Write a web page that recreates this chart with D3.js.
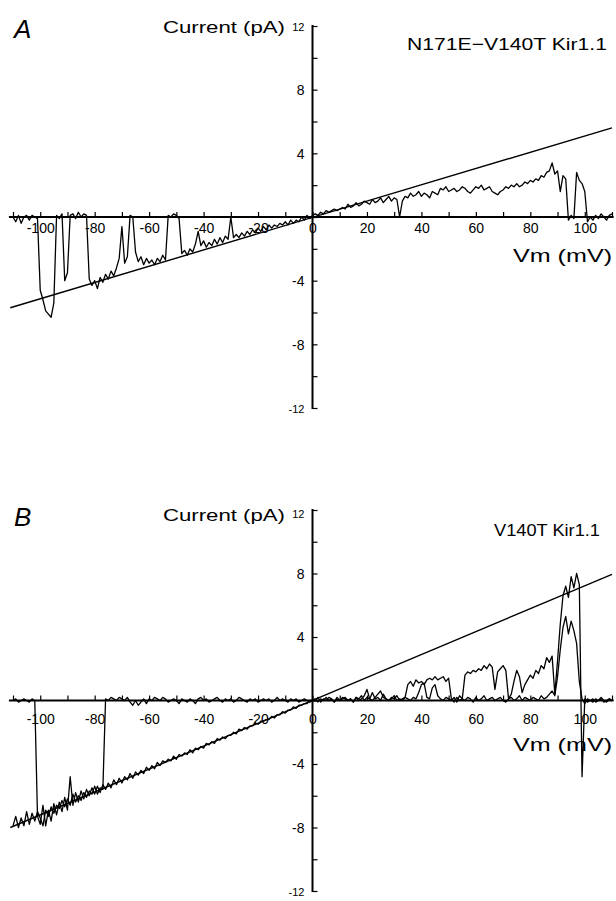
<!DOCTYPE html>
<html>
<head>
<meta charset="utf-8">
<script src="https://cdn.jsdelivr.net/npm/d3@7"></script>
<style>
  body { margin: 0; background: #fff; }
  svg { display: block; }
  text { font-family: "Liberation Sans", Arial, sans-serif; fill: #000; }
</style>
</head>
<body>
<div id="chart"></div>
<script>
// ramp data, one sample per mV starting at -110 mV
const rampStart = -110;

const voltageTicks = [-100, -80, -60, -40, -20, 0, 20, 40, 60, 80, 100];
const currentTicks = [12, 8, 4, -4, -8, -12];

// N171E-V140T Kir1.1 sweep (pA)
const sweepA = [
  0.0, -0.3, 0.1, -0.4, 0.0, 0.1, -0.2, 0.1, 0.0, -0.1,     // -110
  -4.6, -5.2, -5.9, -6.1, -6.3, -5.4, 0.1, -0.1, 0.2, -4.0,  // -100
  -3.5, 0.1, 0.2, -0.1, 0.3, 0.0, 0.2, 0.1, -3.9, -4.3,      // -90
  -4.0, -4.5, -3.8, -4.1, -3.6, -3.9, -3.4, -3.7, -3.2, -2.6, // -80
  -0.6, -2.9, -2.5, 0.1, 0.0, -2.2, -2.8, -2.5, -3.0, -2.6,  // -70
  -2.9, -2.7, -3.0, -2.6, -2.8, -2.4, -2.7, 0.1, 0.0, 0.2,   // -60
  0.1, -0.1, -2.3, -2.1, -2.4, -2.0, -2.2, -1.7, -0.9, -1.8, // -50
  -1.5, -1.9, -1.6, -1.8, -1.4, -1.7, -1.3, -1.6, -1.2, -1.4, // -40
  0.0, -1.3, -1.1, -1.3, -1.0, -1.2, -0.9, -1.1, -0.8, -1.0, // -30
  -0.7, -0.9, -0.6, -0.8, -0.5, -0.7, -0.5, -0.6, -0.4, -0.5, // -20
  -0.3, -0.5, -0.2, -0.4, -0.2, -0.3, 0.0, -0.2, 0.1, -0.1,  // -10
  0.1, 0.2, 0.1, 0.3, 0.2, 0.4, 0.3, 0.4, 0.5, 0.4,          // 0
  0.5, 0.6, 0.5, 0.8, 0.6, 0.7, 0.9, 0.7, 0.8, 1.0,          // 10
  0.9, 0.8, 1.1, 0.9, 1.0, 1.2, 0.9, 1.1, 1.3, 1.0,          // 20
  1.2, 1.1, 0.0, 1.0, 1.3, 1.2, 1.5, 1.3, 1.4, 1.6,          // 30
  1.3, 1.5, 1.4, 1.2, 1.6, 1.5, 1.4, 1.8, 1.7, 1.9,          // 40
  1.6, 1.7, 1.8, 1.6, 1.7, 1.9, 1.8, 1.6, 1.5, 1.7,          // 50
  1.9, 1.8, 2.0, 1.7, 1.8, 1.9, 1.6, 1.5, 1.4, 1.6,          // 60
  1.7, 1.9, 1.8, 2.0, 1.9, 2.1, 1.9, 2.0, 2.2, 2.1,          // 70
  2.3, 2.2, 2.4, 2.3, 2.6, 2.5, 2.8, 2.9, 3.4, 2.7,          // 80
  2.9, 1.6, 2.6, 2.4, -0.2, 0.1, -0.1, 2.8, 2.3, 2.1,        // 90
  1.6, -0.3, 0.0, -0.2, 0.1, -0.1, 0.2, 0.0, -0.2, 0.1,      // 100
  0.2                                                        // 110
];

// V140T Kir1.1, first sweep (pA)
const sweepB1 = [
  0.0, 0.1, -0.1, 0.0, 0.1, 0.0, -0.1, 0.1, 0.0, -7.3,       // -110
  -7.8, -6.6, -7.9, -6.9, -7.6, -6.5, -7.2, -6.4, -7.0, -6.1, // -100
  -6.9, -4.8, -6.6, -5.8, -6.4, -5.7, -6.2, -5.6, -6.0, -5.5, // -90
  -5.9, -5.4, -5.8, -5.3, -5.6, -5.2, -5.5, -5.0, -5.3, -4.9, // -80
  -5.2, -4.8, -5.0, -4.6, -4.9, -4.5, -4.7, -4.4, -4.6, -4.2, // -70
  -4.4, -4.1, -4.3, -3.9, -4.1, -3.8, -3.9, -3.7, -3.8, -3.5, // -60
  -3.7, -3.4, -3.5, -3.3, -3.4, -3.1, -3.3, -3.0, -3.1, -2.9, // -50
  -3.0, -2.7, -2.8, -2.6, -2.7, -2.4, -2.5, -2.3, -2.4, -2.2, // -40
  -2.2, -2.0, -2.1, -1.8, -1.9, -1.7, -1.8, -1.6, -1.6, -1.4, // -30
  -1.5, -1.3, -1.3, -1.2, -1.2, -1.0, -1.1, -0.9, -0.9, -0.7, // -20
  -0.8, -0.6, -0.6, -0.4, -0.5, -0.3, -0.3, -0.2, -0.2, 0.0,  // -10
  0.0, 0.0, 0.2, -0.1, 0.1, 0.0, 0.2, 0.1, -0.1, 0.2,         // 0
  0.0, 0.1, 0.2, 0.0, 0.1, -0.1, 0.2, 0.1, 0.3, 0.0,          // 10
  0.2, 0.1, 0.5, 0.1, 0.2, 0.0, 0.4, 0.1, 0.0, 0.2,           // 20
  0.1, 0.3, 0.0, 0.1, 0.2, 1.0, 1.2, 0.9, 1.3, 1.1,           // 30
  1.2, 1.0, 1.3, 1.4, 1.3, 1.5, 1.3, 1.4, 1.5, 1.2,           // 40
  1.4, 0.1, -0.1, 0.2, 0.0, 0.1, 0.0, 0.2, 0.1, -0.1,         // 50
  0.2, 0.0, 0.1, 0.3, 0.0, 0.1, 0.2, 0.0, 0.1, 0.2,           // 60
  0.0, -0.1, 0.1, 0.2, 0.0, 0.1, 0.3, 0.0, 0.2, 0.1,          // 70
  0.0, 0.2, 0.1, 0.0, 0.3, 0.1, 0.2, 0.4, 0.6, 0.3,           // 80
  1.5, 3.2, 4.6, 5.3, 4.2, 5.0, 4.4, 3.6, 1.2, 0.1,           // 90
  -0.2, 0.1, 0.0, -0.1, 0.1, 0.0, 0.1, -0.1, 0.0, 0.1,        // 100
  0.0                                                         // 110
];

// V140T Kir1.1, second sweep (pA)
const sweepB2 = [
  -7.9, -7.3, -8.0, -7.4, -7.9, -7.0, -7.8, -7.1, -7.6, -7.0, // -110
  -7.4, -7.9, -6.9, -7.3, -6.7, -7.1, -6.6, -6.8, -6.3, -6.7, // -100
  -6.2, -6.6, -5.9, -6.4, -6.0, -6.3, -5.8, -6.1, -5.7, -5.9, // -90
  -5.4, -5.9, -5.5, -5.6, 0.1, 0.0, 0.2, 0.1, 0.0, 0.2,       // -80
  0.1, 0.0, 0.2, -0.1, -0.3, 0.0, -0.3, -0.1, 0.1, -0.2,      // -70
  0.1, 0.0, 0.2, 0.1, 0.0, 0.2, 0.1, -0.1, 0.0, 0.1,          // -60
  0.0, -0.2, 0.1, 0.0, -0.1, 0.1, 0.0, -0.2, 0.1, 0.2,        // -50
  0.0, 0.1, -0.1, 0.0, 0.1, 0.2, 0.0, -0.1, 0.1, 0.0,         // -40
  0.1, -0.1, 0.0, 0.2, 0.1, 0.0, -0.1, 0.1, 0.0, 0.1,         // -30
  -0.1, 0.0, 0.1, 0.0, 0.1, -0.1, 0.0, 0.2, 0.0, 0.1,         // -20
  0.0, -0.1, 0.1, 0.0, 0.1, -0.1, 0.0, 0.1, 0.0, -0.1,        // -10
  0.0, 0.1, -0.1, 0.1, 0.0, 0.2, 0.0, 0.1, -0.1, 0.1,         // 0
  0.0, 0.2, 0.1, 0.0, 0.1, -0.1, 0.2, 0.0, 0.1, 0.3,          // 10
  0.7, 0.1, 0.0, 0.2, 0.4, 0.6, 0.2, 0.1, 0.0, 0.1,           // 20
  0.3, 0.0, 0.1, 0.0, 0.2, 0.1, 0.0, 0.2, 0.1, 0.5,           // 30
  1.0, 1.1, 0.2, 0.1, 0.8, 1.0, 0.3, 0.1, 0.0, 0.2,           // 40
  0.1, 0.0, 0.2, -0.1, 0.3, 0.1, 1.6, 1.8, 1.7, 1.9,          // 50
  1.8, 2.0, 1.9, 2.2, 2.0, 2.3, 2.1, 0.7, 1.8, 2.0,           // 60
  2.2, 1.9, 0.1, 0.4, 1.2, 1.9, 1.5, 0.5, 1.0, 1.3,           // 70
  1.6, 1.4, 1.9, 1.7, 2.2, 2.0, 2.7, 2.4, 2.8, 0.4,           // 80
  2.5, 4.8, 6.6, 7.2, 6.5, 7.8, 7.1, 8.0, 7.3, -4.8,          // 90
  0.1, -0.1, 0.0, 0.1, -0.1, 0.0, 0.2, 0.0, -0.1, 0.1,        // 100
  0.0                                                         // 110
];

// linear fits [mV, pA]
const fitA = [[-111, -5.7], [110, 5.6]];
const fitB = [[-111, -8.0], [110, 7.95]];

const width = 616;
const height = 901;

const svg = d3.select("#chart").append("svg")
  .attr("width", width)
  .attr("height", height);

const x = d3.scaleLinear().domain([-110, 110]).range([13, 612]);

const toPoints = (arr) => arr.map((i, k) => ({ v: rampStart + k, i: i }));

const panels = [
  { letter: "A", title: "N171E\u2212V140T  Kir1.1", sweeps: [sweepA], fit: fitA,
    top: 26, bottom: 408, letterY: 38, currentY: 33, topLabelY: 31, titleY: 50,
    titleX: 407, titleW: 200, vmY: 262, xLabelY: 16 },
  { letter: "B", title: "V140T  Kir1.1", sweeps: [sweepB1, sweepB2], fit: fitB,
    top: 510, bottom: 891, letterY: 526, currentY: 521, topLabelY: 518, titleY: 536,
    titleX: 494, titleW: 106, vmY: 751, xLabelY: 24 }
];

panels.forEach((p) => {
  const y = d3.scaleLinear().domain([-12, 12]).range([p.bottom, p.top]);
  const g = svg.append("g");
  const y0 = y(0);
  const x0 = x(0);

  // x axis line and small upward ticks every 10 mV
  g.append("line")
    .attr("x1", x(-111.5)).attr("x2", x(110.6))
    .attr("y1", y0).attr("y2", y0)
    .attr("stroke", "#000").attr("stroke-width", 2);

  const xt = g.append("g")
    .attr("transform", `translate(0,${y0})`)
    .call(d3.axisTop(x).tickValues(d3.range(-110, 111, 10)).tickSize(5).tickFormat("").tickSizeOuter(0));
  xt.select(".domain").remove();
  xt.selectAll("line").attr("stroke-width", 1.2);

  const xl = g.append("g")
    .attr("transform", `translate(0,${y0})`)
    .call(d3.axisBottom(x).tickValues(voltageTicks).tickSize(0).tickPadding(p.xLabelY - 10).tickFormat(d3.format("d")));
  xl.select(".domain").remove();
  xl.selectAll("text")
    .attr("font-size", 14)
    .attr("dy", "0.71em")
    .text((d) => String(d));

  // y axis with ticks every 2 pA to the right
  g.append("line")
    .attr("x1", x0).attr("x2", x0)
    .attr("y1", y(12) - 1).attr("y2", y(-12) + 1)
    .attr("stroke", "#000").attr("stroke-width", 2);

  const yt = g.append("g")
    .attr("transform", `translate(${x0},0)`)
    .call(d3.axisRight(y).tickValues(d3.range(-12, 13, 2)).tickSize(5).tickFormat("").tickSizeOuter(0));
  yt.select(".domain").remove();
  yt.selectAll("line").attr("stroke-width", 1.2);

  const yl = g.append("g")
    .attr("transform", `translate(${x0 - 8},0)`)
    .call(d3.axisLeft(y).tickValues(currentTicks.filter((d) => d !== 12)).tickSize(0).tickPadding(0));
  yl.select(".domain").remove();
  yl.selectAll("text")
    .attr("font-size", (d) => Math.abs(d) === 12 ? 11 : 14)
    .attr("dy", (d) => d === -12 ? "0.45em" : "0.35em")
    .text((d) => String(d));

  // fit line
  g.append("path")
    .datum(p.fit)
    .attr("fill", "none")
    .attr("stroke", "#000")
    .attr("stroke-width", 1.4)
    .attr("d", d3.line().x((d) => x(d[0])).y((d) => y(d[1])));

  // current traces
  const line = d3.line().x((d) => x(d.v)).y((d) => y(d.i));
  p.sweeps.forEach((s) => {
    g.append("path")
      .datum(toPoints(s))
      .attr("fill", "none")
      .attr("stroke", "#000")
      .attr("stroke-width", 1.3)
      .attr("stroke-linejoin", "round")
      .attr("d", line);
  });

  // labels
  g.append("text")
    .attr("x", 14).attr("y", p.letterY)
    .attr("font-size", 26).attr("font-style", "italic")
    .text(p.letter);

  g.append("text")
    .attr("x", 163).attr("y", p.currentY)
    .attr("font-size", 16)
    .attr("textLength", 122).attr("lengthAdjust", "spacingAndGlyphs")
    .text("Current (pA)");

  g.append("text")
    .attr("x", x0 - 8).attr("y", p.topLabelY)
    .attr("text-anchor", "end")
    .attr("font-size", 11)
    .text(currentTicks[0]);

  g.append("text")
    .attr("x", p.titleX).attr("y", p.titleY)
    .attr("font-size", 17)
    .attr("textLength", p.titleW).attr("lengthAdjust", "spacingAndGlyphs")
    .text(p.title);

  g.append("text")
    .attr("x", 513).attr("y", p.vmY)
    .attr("font-size", 18)
    .attr("textLength", 99).attr("lengthAdjust", "spacingAndGlyphs")
    .text("Vm (mV)");
});
</script>
</body>
</html>
